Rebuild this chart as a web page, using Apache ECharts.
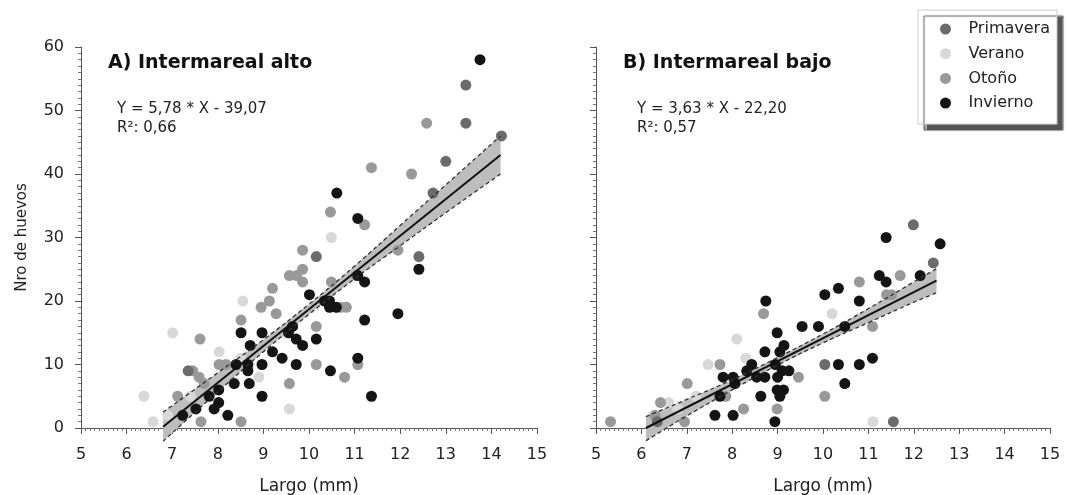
<!doctype html>
<html>
<head>
<meta charset="utf-8">
<title>Nro de huevos vs Largo</title>
<script src="https://cdn.jsdelivr.net/npm/echarts@6/dist/echarts.min.js"></script>
<style>
    html, body { margin: 0; padding: 0; background: #fff; }
    #chart { width: 1066px; height: 495px; }
</style>
</head>
<body>
<div id="chart"></div>
<script type="text/javascript">
    // estaciones y colores (orden de la leyenda)
    var seasons = ['Primavera', 'Verano', 'Otoño', 'Invierno'];
    var seasonColors = ['#6b6b6b', '#d8d8d8', '#999999', '#141414'];

    var xTicks = [5, 6, 7, 8, 9, 10, 11, 12, 13, 14, 15];
    var yTicks = [0, 10, 20, 30, 40, 50, 60];

    // A) Intermareal alto  [largo, huevos]
    var altoPrimavera = [[13.44, 54], [13.44, 48], [14.22, 46], [13.0, 42], [12.72, 37], [10.16, 27], [12.41, 27], [7.35, 9]];
    var altoVerano = [[10.49, 30], [8.55, 20], [7.01, 15], [6.38, 5], [6.58, 1], [6.9, 2], [7.4, 5], [8.03, 12], [8.9, 8], [9.57, 3], [8.5, 11]];
    var altoOtono = [[12.58, 48], [11.37, 41], [12.25, 40], [10.47, 34], [11.22, 32], [11.95, 28], [9.86, 28], [9.57, 24], [9.86, 25],
        [9.73, 24], [9.86, 23], [9.2, 22], [10.49, 23], [9.13, 20], [8.95, 19], [9.28, 18], [8.51, 17], [7.61, 14], [10.7, 19],
        [10.16, 16], [10.16, 10], [10.78, 8], [11.07, 10], [9.57, 7], [8.18, 10], [8.03, 10], [7.45, 9], [7.59, 8], [7.7, 7],
        [7.12, 5], [7.63, 1], [8.51, 1], [10.82, 19], [11.04, 24]];
    var altoInvierno = [[13.75, 58], [10.61, 37], [11.07, 33], [12.41, 25], [11.07, 24], [11.22, 23], [11.95, 18], [11.22, 17],
        [10.01, 21], [10.34, 20], [10.45, 20], [10.6, 19], [10.45, 19], [9.64, 16], [9.55, 15], [9.72, 14], [9.86, 13], [10.16, 14],
        [8.51, 15], [8.97, 15], [8.71, 13], [9.2, 12], [9.41, 11], [9.72, 10], [10.47, 9], [11.07, 11], [11.37, 5], [8.4, 10],
        [8.66, 10], [8.97, 10], [8.66, 9], [8.36, 7], [8.69, 7], [8.97, 5], [8.02, 6], [7.81, 5], [8.02, 4], [7.92, 3], [7.52, 3],
        [7.23, 2], [8.22, 2]];

    // B) Intermareal bajo
    var bajoPrimavera = [[11.99, 32], [12.43, 26], [11.55, 1], [10.04, 10], [6.35, 1]];
    var bajoVerano = [[10.2, 18], [8.1, 14], [7.47, 10], [11.1, 1], [6.6, 4], [6.8, 3], [7.2, 5], [8.3, 11]];
    var bajoOtono = [[5.32, 1], [11.7, 24], [10.8, 23], [11.4, 21], [11.51, 21], [8.69, 18], [11.09, 16], [7.73, 10], [9.46, 8],
        [10.04, 5], [7.86, 5], [8.99, 3], [8.25, 3], [7.01, 7], [6.42, 4], [6.3, 2], [6.95, 1]];
    var bajoInvierno = [[11.39, 30], [12.58, 29], [11.24, 24], [11.39, 23], [12.14, 24], [10.04, 21], [10.34, 22], [10.8, 20],
        [8.74, 20], [9.54, 16], [9.9, 16], [10.48, 16], [8.99, 15], [9.14, 13], [9.05, 12], [8.72, 12], [8.43, 10], [8.32, 9],
        [8.95, 10], [9.1, 9], [9.25, 9], [9.0, 8], [7.8, 8], [8.02, 8], [8.06, 7], [8.54, 8], [8.72, 8], [10.34, 10], [10.8, 10],
        [11.09, 11], [10.48, 7], [8.99, 6], [9.13, 6], [9.05, 5], [8.63, 5], [7.73, 5], [8.94, 1], [7.62, 2], [8.02, 2]];

    // recta de regresion y banda de confianza
    var altoLineX = [6.8, 14.2];
    var altoLineY = [0.2, 43.0];
    var altoBandX = [6.8, 8, 9, 10, 11, 12, 13, 14.2];
    var altoBandUp = [2.5, 8.7, 13.9, 19.5, 25.5, 31.9, 38.3, 46.0];
    var altoBandLo = [-2.1, 5.7, 12.0, 17.9, 23.5, 28.7, 33.9, 40.0];

    var bajoLineX = [6.1, 12.5];
    var bajoLineY = [0, 23.2];
    var bajoBandX = [6.1, 7, 8, 9, 10, 11, 12, 12.5];
    var bajoBandUp = [1.8, 4.5, 7.6, 11.1, 14.8, 18.8, 23.0, 25.1];
    var bajoBandLo = [-2.0, 1.9, 6.0, 9.9, 13.4, 16.6, 19.8, 21.3];

    var FONT = 'DejaVu Sans';

    function xAxisOf(gi) {
        return {
            type: 'value', gridIndex: gi, min: xTicks[0], max: xTicks[xTicks.length - 1], interval: 1,
            name: 'Largo (mm)', nameLocation: 'middle', nameGap: 50,
            nameTextStyle: {fontFamily: FONT, fontSize: 17, color: '#222'},
            axisLine: {lineStyle: {color: '#555', width: 1}},
            axisTick: {length: 6, lineStyle: {color: '#555'}},
            minorTick: {show: true, splitNumber: 10, length: 3, lineStyle: {color: '#777'}},
            axisLabel: {fontFamily: FONT, fontSize: 16, color: '#222', margin: 19},
            splitLine: {show: false}
        };
    }

    function yAxisOf(gi) {
        return {
            type: 'value', gridIndex: gi, min: yTicks[0], max: yTicks[yTicks.length - 1], interval: 10,
            name: gi === 0 ? 'Nro de huevos' : '', nameLocation: 'middle', nameGap: 51,
            nameTextStyle: {fontFamily: FONT, fontSize: 15, color: '#222'},
            axisLine: {show: true, lineStyle: {color: '#555', width: 1}},
            axisTick: {show: true, length: 6, lineStyle: {color: '#555'}},
            minorTick: {show: true, splitNumber: 10, length: 3, lineStyle: {color: '#777'}},
            axisLabel: {show: gi === 0, fontFamily: FONT, fontSize: 16, color: '#222', margin: 17},
            splitLine: {show: false}
        };
    }

    function bandSeries(gi, bx, up, lo) {
        var rows = bx.map(function (x, i) { return [x, up[i], lo[i]]; });
        return [{
            type: 'custom', xAxisIndex: gi, yAxisIndex: gi, silent: true, z: 1,
            data: rows,
            renderItem: function (params, api) {
                if (params.dataIndex !== 0) return;
                var pts = [];
                for (var i = 0; i < bx.length; i++) pts.push(api.coord([bx[i], up[i]]));
                for (var j = bx.length - 1; j >= 0; j--) pts.push(api.coord([bx[j], lo[j]]));
                return {type: 'polygon', shape: {points: pts}, style: {fill: '#bdbdbd', stroke: null}};
            }
        }, {
            type: 'line', xAxisIndex: gi, yAxisIndex: gi, silent: true, z: 3, clip: false,
            data: bx.map(function (x, i) { return [x, up[i]]; }), smooth: true, symbol: 'none',
            lineStyle: {color: '#333', width: 1.3, type: [4, 3]}
        }, {
            type: 'line', xAxisIndex: gi, yAxisIndex: gi, silent: true, z: 3, clip: false,
            data: bx.map(function (x, i) { return [x, lo[i]]; }), smooth: true, symbol: 'none',
            lineStyle: {color: '#333', width: 1.3, type: [4, 3]}
        }];
    }

    function lineSeries(gi, lx, ly) {
        return {
            type: 'line', xAxisIndex: gi, yAxisIndex: gi, silent: true, z: 5, clip: false,
            data: lx.map(function (x, i) { return [x, ly[i]]; }), symbol: 'none',
            lineStyle: {color: '#111', width: 2}
        };
    }

    function scatterSeries(gi, name, data) {
        var k = seasons.indexOf(name);
        return {
            type: 'scatter', name: name, xAxisIndex: gi, yAxisIndex: gi, z: 2,
            data: data, symbolSize: 11,
            itemStyle: {color: seasonColors[k], opacity: 1}
        };
    }

    var series = []
        .concat(bandSeries(0, altoBandX, altoBandUp, altoBandLo))
        .concat([
            scatterSeries(0, 'Verano', altoVerano),
            scatterSeries(0, 'Otoño', altoOtono),
            scatterSeries(0, 'Primavera', altoPrimavera),
            scatterSeries(0, 'Invierno', altoInvierno),
            lineSeries(0, altoLineX, altoLineY)
        ])
        .concat(bandSeries(1, bajoBandX, bajoBandUp, bajoBandLo))
        .concat([
            scatterSeries(1, 'Verano', bajoVerano),
            scatterSeries(1, 'Otoño', bajoOtono),
            scatterSeries(1, 'Primavera', bajoPrimavera),
            scatterSeries(1, 'Invierno', bajoInvierno),
            lineSeries(1, bajoLineX, bajoLineY)
        ]);

    var option = {
        animation: false,
        backgroundColor: '#fff',
        textStyle: {fontFamily: FONT},
        title: [
            {text: 'A) Intermareal alto', left: 103, top: 49, textStyle: {fontFamily: FONT, fontSize: 19, fontWeight: 'bold', color: '#111'}},
            {text: 'B) Intermareal bajo', left: 618, top: 49, textStyle: {fontFamily: FONT, fontSize: 19, fontWeight: 'bold', color: '#111'}}
        ],
        graphic: [
            {type: 'text', left: 117, top: 100, style: {text: 'Y = 5,78 * X - 39,07\nR²: 0,66', font: '15px "DejaVu Sans"', fill: '#222', lineHeight: 19}},
            {type: 'text', left: 637, top: 100, style: {text: 'Y = 3,63 * X - 22,20\nR²: 0,57', font: '15px "DejaVu Sans"', fill: '#222', lineHeight: 19}}
        ],
        legend: {
            data: seasons, orient: 'vertical', left: 918, top: 10,
            padding: [11, 7, 13, 22], itemGap: 8.7, itemWidth: 36, itemHeight: 11, icon: 'circle',
            textStyle: {fontFamily: FONT, fontSize: 16, color: '#222', lineHeight: 16},
            backgroundColor: '#fff', borderColor: '#ccc', borderWidth: 1,
            shadowColor: '#555', shadowBlur: 1, shadowOffsetX: 6, shadowOffsetY: 6
        },
        grid: [
            {left: 81, top: 47, width: 456, height: 381, containLabel: false, outerBoundsMode: 'none'},
            {left: 596, top: 47, width: 454, height: 381, containLabel: false, outerBoundsMode: 'none'}
        ],
        xAxis: [xAxisOf(0), xAxisOf(1)],
        yAxis: [yAxisOf(0), yAxisOf(1)],
        series: series
    };

    var chart = echarts.init(document.getElementById('chart'));
    chart.setOption(option);
</script>
</body>
</html>
